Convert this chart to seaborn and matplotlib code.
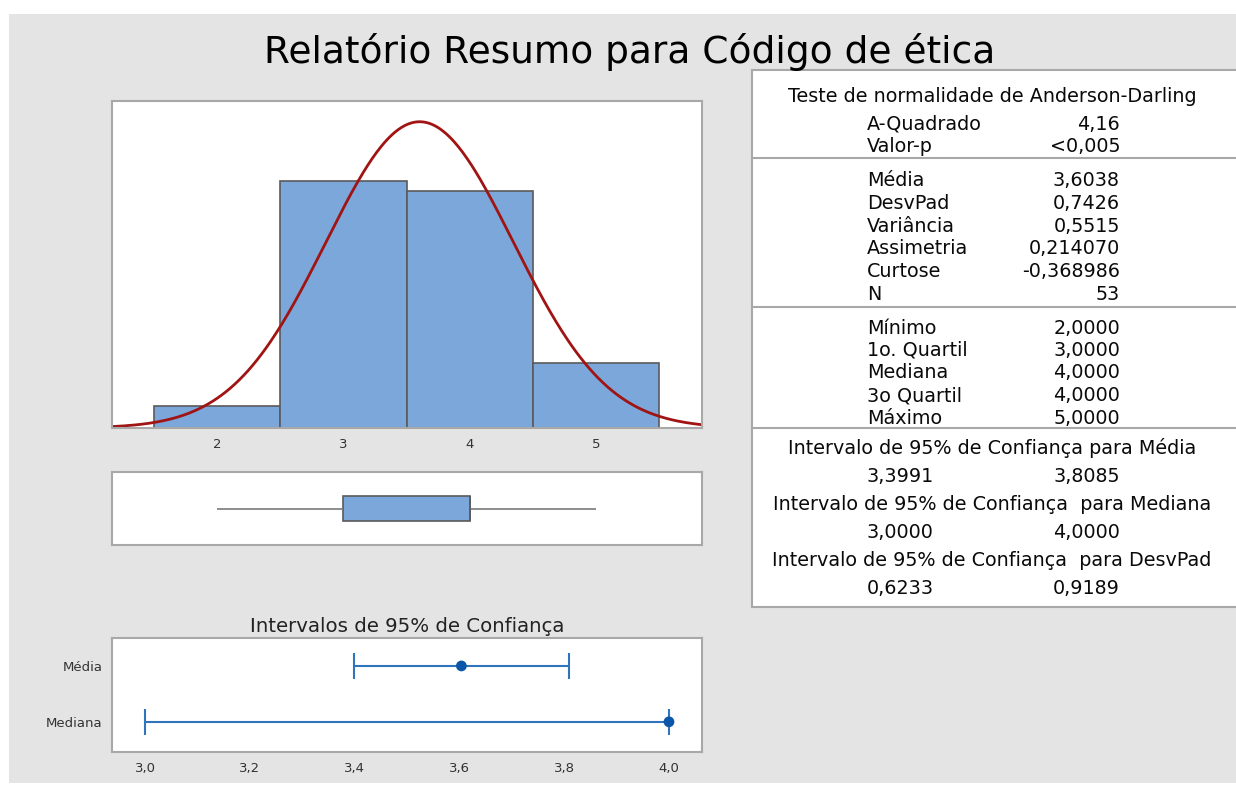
import numpy as np
import matplotlib
matplotlib.use("Agg")
import matplotlib.pyplot as plt
import seaborn as sns
from matplotlib.patches import Rectangle

# dados
valores = [2, 3, 4, 5]
contagens = [2, 23, 22, 6]
media = 3.6038
desvpad = 0.7426

ci_labels = ["Média", "Mediana"]
ci_centro = [3.6038, 4.0]
ci_inf = [3.3991, 3.0]
ci_sup = [3.8085, 4.0]

ad_labels = ["A-Quadrado", "Valor-p"]
ad_vals = ["4,16", "<0,005"]
desc_labels = ["Média", "DesvPad", "Variância", "Assimetria", "Curtose", "N"]
desc_vals = ["3,6038", "0,7426", "0,5515", "0,214070", "-0,368986", "53"]
quart_labels = ["Mínimo", "1o. Quartil", "Mediana", "3o Quartil", "Máximo"]
quart_vals = ["2,0000", "3,0000", "4,0000", "4,0000", "5,0000"]
int_titles = ["Intervalo de 95% de Confiança para Média",
              "Intervalo de 95% de Confiança  para Mediana",
              "Intervalo de 95% de Confiança  para DesvPad"]
int_vals = [("3,3991", "3,8085"), ("3,0000", "4,0000"), ("0,6233", "0,9189")]

sns.set_style("white")
plt.rcParams["font.family"] = ["DejaVu Sans"]

W, H = 1236, 787
fig = plt.figure(figsize=(W / 100, H / 100), dpi=100, facecolor="white")

BG = "#e4e4e4"
BAR = "#7ba7da"
EDGE = "#5a5a5a"
SPINE = "#a8a8a8"


def rect(l, t, r, b):
    return [l / W, 1 - b / H, (r - l) / W, (b - t) / H]


# fundo cinza + tabela (em pixels)
bg = fig.add_axes([0, 0, 1, 1])
bg.set_xlim(0, W)
bg.set_ylim(H, 0)
bg.axis("off")
bg.add_patch(Rectangle((9, 14), W, 769, facecolor=BG, edgecolor="none"))
bg.add_patch(Rectangle((752, 70), 500, 537, facecolor="white", edgecolor=SPINE, lw=1.5))
for yl in [158, 307, 428]:
    bg.plot([752, W], [yl, yl], color=SPINE, lw=1.5)

bg.text(630, 52, "Relatório Resumo para Código de ética", fontsize=27,
        ha="center", va="center", color="black")

fs = 13.8
txt = dict(fontsize=fs, va="center", color="#0a0a0a")
bg.text(992, 96, "Teste de normalidade de Anderson-Darling", ha="center", **txt)
for i, (lab, v) in enumerate(zip(ad_labels, ad_vals)):
    y = 124 + i * 22.5
    bg.text(867, y, lab, ha="left", **txt)
    bg.text(1120, y, v, ha="right", **txt)
for i, (lab, v) in enumerate(zip(desc_labels, desc_vals)):
    y = 181 + i * 22.6
    bg.text(867, y, lab, ha="left", **txt)
    bg.text(1120, y, v, ha="right", **txt)
for i, (lab, v) in enumerate(zip(quart_labels, quart_vals)):
    y = 328 + i * 22.5
    bg.text(867, y, lab, ha="left", **txt)
    bg.text(1120, y, v, ha="right", **txt)
for i, (t, (a, b)) in enumerate(zip(int_titles, int_vals)):
    y = 448 + i * 56.5
    bg.text(992, y, t, ha="center", **txt)
    bg.text(867, y + 28, a, ha="left", **txt)
    bg.text(1120, y + 28, b, ha="right", **txt)

xlim = (1.167, 5.84)

# histograma
ax1 = fig.add_axes(rect(112, 101, 702, 428))
sns.histplot(x=valores, weights=contagens, discrete=True, ax=ax1,
             color=BAR, alpha=1, edgecolor=EDGE, linewidth=1.2)
xx = np.linspace(xlim[0], xlim[1], 400)
yy = sum(contagens) * np.exp(-0.5 * ((xx - media) / desvpad) ** 2) / (desvpad * np.sqrt(2 * np.pi))
ax1.plot(xx, yy, color="#a01414", lw=2)
ax1.set_xlim(*xlim)
ax1.set_ylim(0, 30.4)
ax1.set_yticks([])
ax1.set_xticks(valores)
ax1.set_xlabel("")
ax1.set_ylabel("")
ax1.tick_params(axis="x", length=4, color="#888888", labelsize=9.5, labelcolor="#333333", pad=3)

# boxplot
dados = np.repeat(valores, contagens)
ax2 = fig.add_axes(rect(112, 472, 702, 545))
sns.boxplot(x=dados, orient="h", ax=ax2, width=0.8, color=BAR, showcaps=False,
            boxprops=dict(facecolor=BAR, edgecolor=EDGE, linewidth=1.2),
            whiskerprops=dict(color="#7a7a7a", linewidth=1.2),
            medianprops=dict(color=EDGE, linewidth=1.2))
ax2.set_xlim(*xlim)
ax2.set_ylim(1.17, -1.17)
ax2.set_xticks([])
ax2.set_yticks([])
ax2.set_xlabel("")

# intervalos de confiança
ax3 = fig.add_axes(rect(112, 638, 702, 752))
pos = np.arange(len(ci_labels))
err = [np.array(ci_centro) - np.array(ci_inf), np.array(ci_sup) - np.array(ci_centro)]
ax3.errorbar(ci_centro, pos, xerr=err, fmt="none", ecolor="#2f74bd",
             elinewidth=1.5, capsize=9.5, capthick=1.5)
sns.scatterplot(x=ci_centro, y=pos, ax=ax3, color="#0a56a8", s=60, edgecolor="none", zorder=3)
ax3.set_xlim(2.937, 4.063)
ax3.set_ylim(1.54, -0.5)
ax3.set_yticks(pos)
ax3.set_yticklabels(ci_labels)
ax3.set_xticks([3.0, 3.2, 3.4, 3.6, 3.8, 4.0])
ax3.set_xticklabels(["3,0", "3,2", "3,4", "3,6", "3,8", "4,0"])
ax3.tick_params(axis="both", length=4, color="#888888", labelsize=9.5, labelcolor="#333333", pad=3)
ax3.set_title("Intervalos de 95% de Confiança", fontsize=14.2, color="#222222", pad=4)

for ax in [ax1, ax2, ax3]:
    ax.set_facecolor("white")
    for s in ax.spines.values():
        s.set_visible(True)
        s.set_color(SPINE)
        s.set_linewidth(1.5)

fig.savefig("out.png", dpi=100, facecolor="white")
